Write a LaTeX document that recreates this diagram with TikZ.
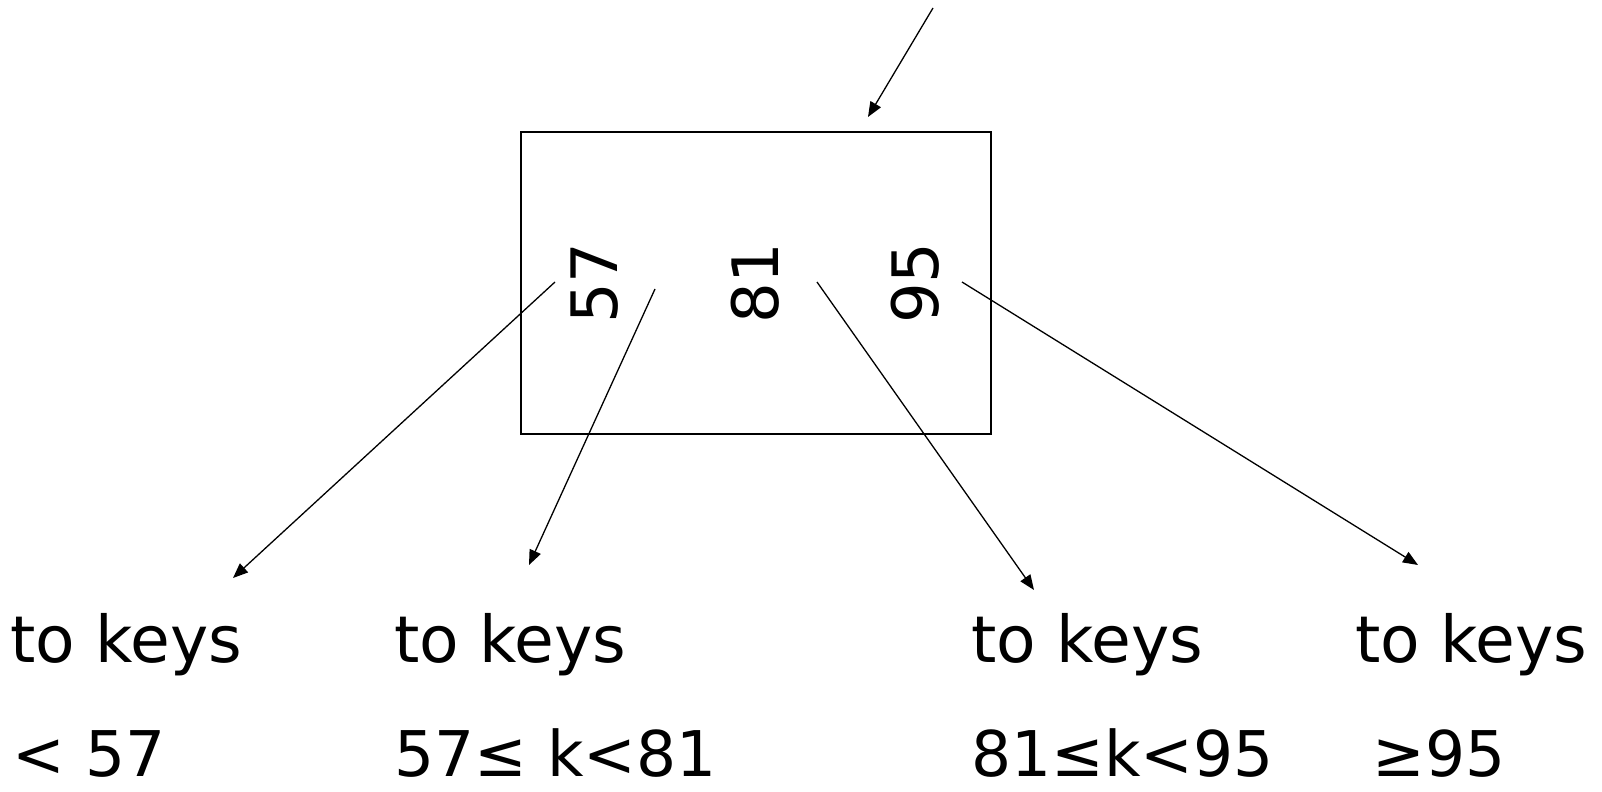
\documentclass[tikz,border=0pt]{standalone}
\usepackage{fontspec}
\setmainfont{DejaVu Sans}
\usetikzlibrary{arrows.meta}

\begin{document}
\begin{tikzpicture}[
  x=0.5pt,y=-0.5pt,
  key/.style={rotate=90,inner sep=0pt,font=\fontsize{32}{38}\selectfont},
  lbl/.style={anchor=base west,inner sep=0pt,text depth=0pt,font=\fontsize{31.5}{38}\selectfont},
  ptr/.style={line width=0.65pt,-{Triangle[length=7.5pt,width=6pt]}}
]
\useasboundingbox (0,0) rectangle (1602,792);
\node[draw,line width=1pt,minimum width=235pt,minimum height=151pt,inner sep=0pt] (blk) at (756,283) {};
\node[key] (k57) at (595,283) {57};
\node[key] (k81) at (755,283) {81};
\node[key] (k95) at (915,283) {95};

\node[lbl,font=\fontsize{32.3}{38}\selectfont] (t1) at (10,662) {to keys};
\node[lbl,font=\fontsize{32.3}{38}\selectfont] (t2) at (394,662) {to keys};
\node[lbl,font=\fontsize{32.3}{38}\selectfont] (t3) at (971,662) {to keys};
\node[lbl,font=\fontsize{32.3}{38}\selectfont] (t4) at (1355,662) {to keys};
\node[lbl] (r1) at (12,776) {< 57};
\node[lbl] (r2) at (394,776) {57≤ k<81};
\node[lbl] (r3) at (971,776) {81≤k<95};
\node[lbl] (r4) at (1372,776) {≥95};

% free ends of the pointers
\coordinate (in) at (933,8);
\coordinate (inend) at (868,117);
\coordinate (s1) at (555,282);
\coordinate (s2) at (655,289);
\coordinate (s3) at (817,282);
\coordinate (s4) at (962,282);
\coordinate (e1) at (233,578);
\coordinate (e2) at (529,565);
\coordinate (e3) at (1034,590);
\coordinate (e4) at (1418,565);

\draw[ptr] (in) -- (inend);
\draw[ptr] (s1) -- (e1);
\draw[ptr] (s2) -- (e2);
\draw[ptr] (s3) -- (e3);
\draw[ptr] (s4) -- (e4);
\end{tikzpicture}
\end{document}
